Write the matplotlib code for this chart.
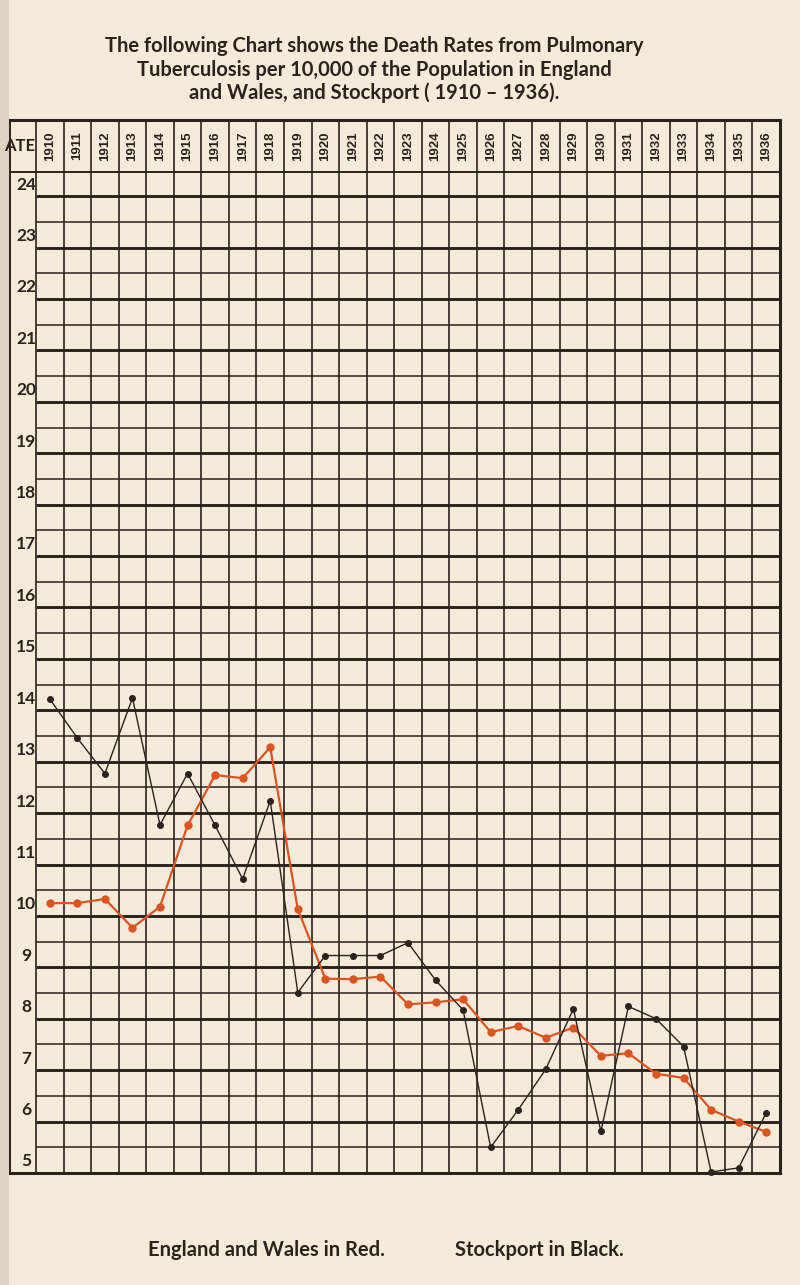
import matplotlib.pyplot as plt
import numpy as np

# values (deaths per 10,000)
years = list(range(1910, 1937))
england_wales = [10.25, 10.25, 10.33, 9.77, 10.18, 11.76, 12.74, 12.68, 13.28, 10.13,
                 8.78, 8.77, 8.82, 8.28, 8.32, 8.38, 7.74, 7.86, 7.63, 7.83,
                 7.28, 7.33, 6.93, 6.85, 6.23, 6.0, 5.8]
stockport = [14.22, 13.46, 12.77, 14.24, 11.77, 12.77, 11.76, 10.72, 12.24, 8.51,
             9.23, 9.23, 9.23, 9.48, 8.75, 8.17, 5.5, 6.23, 7.02, 8.19,
             5.81, 8.24, 8.0, 7.46, 5.02, 5.1, 6.17]
rate_labels = list(range(5, 25))

paper = '#f5ebda'
ink = '#2b221e'
red = '#dc5420'

W, H = 800, 1285
fig = plt.figure(figsize=(W / 100, H / 100), dpi=100, facecolor=paper)


def box(x0, y0, x1, y1):
    return [x0 / W, 1 - y1 / H, (x1 - x0) / W, (y1 - y0) / H]


# binding shadow on the left edge
strip = fig.add_axes(box(0, 0, 9, H))
strip.set_facecolor('#ddd3c3')
strip.set_xticks([])
strip.set_yticks([])
for s in strip.spines.values():
    s.set_visible(False)

ax = fig.add_axes(box(36, 172, 780, 1173))
ax.set_facecolor(paper)
ax.set_xlim(-0.5, 26.5)
ax.set_ylim(5, 24.47)
ax.axis('off')

px_x = 744 / 27.0
px_y = 1001 / 19.47
y_head_top = 24.47 + 52 / px_y
x_left = -0.5 - 26 / px_x

# horizontal rules
for v in np.arange(5, 24.01, 0.5):
    lw = 2.1 if v == int(v) else 1.1
    ax.plot([-0.5, 26.5], [v, v], color=ink, lw=lw, solid_capstyle='butt', clip_on=False)
ax.plot([x_left, 26.5], [24.47, 24.47], color=ink, lw=1.4, clip_on=False)
ax.plot([x_left, 26.5], [y_head_top, y_head_top], color=ink, lw=2.2, clip_on=False)

# vertical rules
for k in range(28):
    xv = -0.5 + k
    lw = 2.2 if k == 27 else 1.2
    ax.plot([xv, xv], [5, y_head_top], color=ink, lw=lw, clip_on=False)
ax.plot([x_left, x_left], [5, y_head_top], color=ink, lw=1.4, clip_on=False)
ax.plot([x_left, 26.5], [5, 5], color=ink, lw=2.2, clip_on=False)

# year headings
for i, yr in enumerate(years):
    ax.text(i, 24.47 + 26 / px_y, str(yr), rotation=90, ha='center', va='center',
            fontsize=9.5, fontweight='bold', family='Liberation Sans', color=ink, clip_on=False)

# rate labels
for r in rate_labels:
    ax.text(x_left + 16 / px_x, r + 0.07, str(r), ha='center', va='bottom',
            fontsize=12.5, family='Lato', fontweight='bold', color=ink, clip_on=False)

# heading of the rate column (its first letter is lost in the binding)
ax.text(x_left + 25 / px_x, 24.47 + 26 / px_y, 'ATE', ha='right', va='center',
        fontsize=12, family='Lato', fontweight='bold', color=ink, clip_on=False)

x = np.arange(len(years))
ax.plot(x, england_wales, color=red, lw=1.6, marker='o', ms=5, clip_on=False, zorder=5)
ax.plot(x, stockport, color=ink, lw=1.0, marker='o', ms=4, clip_on=False, zorder=6)

title = ['The following Chart shows the Death Rates from Pulmonary',
         'Tuberculosis per 10,000 of the Population in England',
         'and Wales, and Stockport ( 1910 \u2013 1936).']
for j, line in enumerate(title):
    fig.text(374 / W, 1 - (46 + 23.5 * j) / H, line, ha='center', va='center',
             fontsize=14.5, family='Lato', fontweight='bold', color=ink)

fig.text(266 / W, 1 - 1250 / H, 'England and Wales in Red.', ha='center', va='center',
         fontsize=14.5, family='Lato', fontweight='bold', color=ink)
fig.text(539 / W, 1 - 1250 / H, 'Stockport in Black.', ha='center', va='center',
         fontsize=14.5, family='Lato', fontweight='bold', color=ink)

fig.savefig('out.png', dpi=100, facecolor=paper)
